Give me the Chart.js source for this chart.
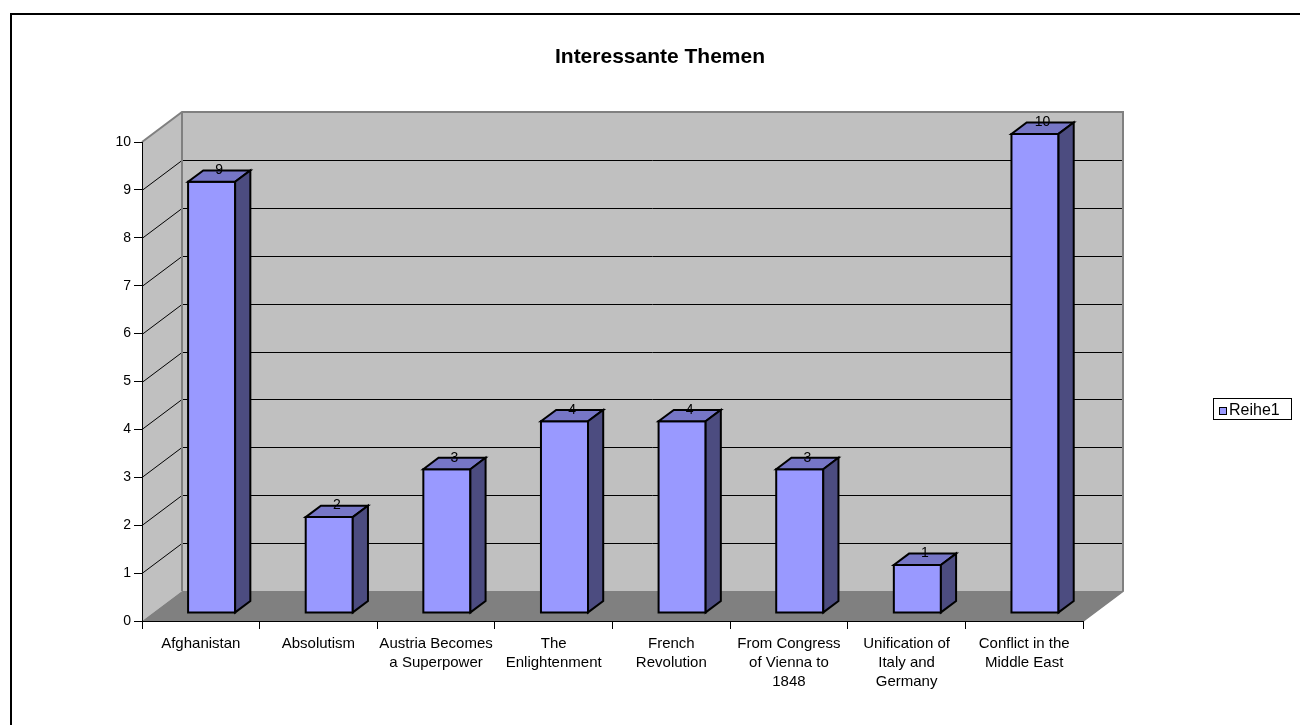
<!DOCTYPE html>
<html>
<head>
<meta charset="utf-8">
<title>Interessante Themen</title>
<script src="https://cdn.jsdelivr.net/npm/chart.js@4.4.1/dist/chart.umd.min.js"></script>
<style>
  html, body { margin: 0; padding: 0; background: #ffffff; }
  canvas { display: block; }
</style>
</head>
<body>
<canvas id="chart" width="1300" height="725"></canvas>
<script>
// ---- data ----
const chartTitle = "Interessante Themen";
const seriesName = "Reihe1";
const categories = [
  "Afghanistan",
  "Absolutism",
  ["Austria Becomes", "a Superpower"],
  ["The", "Enlightenment"],
  ["French", "Revolution"],
  ["From Congress", "of Vienna to", "1848"],
  ["Unification of", "Italy and", "Germany"],
  ["Conflict in the", "Middle East"]
];
const values = [9, 2, 3, 4, 4, 3, 1, 10];
const yMin = 0;
const yMax = 10;
const yStep = 1;

// ---- look ----
const FONT = "'Liberation Sans', Arial, Helvetica, sans-serif";
const DEPTH_X = 40;        // how far the back wall sits to the right
const DEPTH_Y = -30;       // ... and upwards
const BAR_FRONT = 0.27;    // bar front face, as a fraction of the depth
const BAR_BACK = 0.65;     // bar back face
const COL_WALL = "#c0c0c0";
const COL_FLOOR = "#808080";
const COL_EDGE = "#808080";
const COL_FRONT = "#9999ff";
const COL_TOP = "#7676c6";
const COL_SIDE = "#4c4c80";

function poly(ctx, pts) {
  ctx.beginPath();
  ctx.moveTo(pts[0][0], pts[0][1]);
  for (let i = 1; i < pts.length; i++) ctx.lineTo(pts[i][0], pts[i][1]);
  ctx.closePath();
}

// Background, frame, title, and the 3D walls/floor with their gridlines
const scenery = {
  id: "scenery",
  beforeDraw(chart) {
    const { ctx, chartArea: a, scales } = chart;
    const y = scales.y;
    const L = a.left, R = a.right, T = a.top, B = a.bottom;
    const dx = DEPTH_X, dy = DEPTH_Y;
    ctx.save();
    ctx.fillStyle = "#ffffff";
    ctx.fillRect(0, 0, chart.width, chart.height);

    // outer frame
    ctx.strokeStyle = "#000000";
    ctx.lineWidth = 2;
    ctx.strokeRect(11, 14, chart.width + 10, chart.height + 10);

    // title
    ctx.fillStyle = "#000000";
    ctx.font = "bold 21px " + FONT;
    ctx.textAlign = "center";
    ctx.textBaseline = "alphabetic";
    ctx.fillText(chartTitle, 660, 63);

    // back wall
    ctx.fillStyle = COL_WALL;
    ctx.fillRect(L + dx, T + dy, R - L, B - T);
    // side wall
    poly(ctx, [[L, T], [L + dx, T + dy], [L + dx, B + dy], [L, B]]);
    ctx.fill();
    // floor
    ctx.fillStyle = COL_FLOOR;
    poly(ctx, [[L, B], [R, B], [R + dx, B + dy], [L + dx, B + dy]]);
    ctx.fill();

    // gridlines on the walls
    ctx.strokeStyle = "#000000";
    ctx.lineWidth = 1;
    y.ticks.forEach(t => {
      if (t.value <= yMin || t.value >= yMax) return;
      const py = Math.round(y.getPixelForValue(t.value)) + 0.5;
      ctx.beginPath();
      ctx.moveTo(L, py);
      ctx.lineTo(L + dx, py + dy);
      ctx.lineTo(R + dx, py + dy);
      ctx.stroke();
    });

    // wall edges
    ctx.strokeStyle = COL_EDGE;
    ctx.lineWidth = 2;
    ctx.beginPath();
    ctx.moveTo(L, T);
    ctx.lineTo(L + dx, T + dy);
    ctx.lineTo(R + dx, T + dy);
    ctx.lineTo(R + dx, B + dy);
    ctx.lineTo(R, B);
    ctx.moveTo(L + dx, T + dy);
    ctx.lineTo(L + dx, B + dy);
    ctx.stroke();
    ctx.restore();
  },

  // 3D columns and their value labels
  afterDatasetsDraw(chart) {
    const { ctx } = chart;
    const meta = chart.getDatasetMeta(0);
    const dx0 = BAR_FRONT * DEPTH_X, dy0 = BAR_FRONT * DEPTH_Y;
    const d = (BAR_BACK - BAR_FRONT) * DEPTH_X;
    const e = (BAR_BACK - BAR_FRONT) * DEPTH_Y;
    ctx.save();
    ctx.lineWidth = 2;
    ctx.lineJoin = "miter";
    ctx.strokeStyle = "#000000";
    meta.data.forEach((el, i) => {
      const p = el.getProps(["x", "y", "base", "width"], true);
      const x0 = p.x - p.width / 2 + dx0;
      const x1 = p.x + p.width / 2 + dx0;
      const yt = p.y + dy0;
      const yb = p.base + dy0;

      // front
      ctx.fillStyle = COL_FRONT;
      poly(ctx, [[x0, yt], [x1, yt], [x1, yb], [x0, yb]]);
      ctx.fill(); ctx.stroke();
      // top
      ctx.fillStyle = COL_TOP;
      poly(ctx, [[x0, yt], [x1, yt], [x1 + d, yt + e], [x0 + d, yt + e]]);
      ctx.fill(); ctx.stroke();
      // right side
      ctx.fillStyle = COL_SIDE;
      poly(ctx, [[x1, yt], [x1 + d, yt + e], [x1 + d, yb + e], [x1, yb]]);
      ctx.fill(); ctx.stroke();

      // value label on the top face
      ctx.fillStyle = "#000000";
      ctx.font = "14px " + FONT;
      ctx.textAlign = "center";
      ctx.textBaseline = "alphabetic";
      ctx.fillText(String(values[i]), (x0 + x1) / 2 + d / 2, yt + e / 2 - 2);
    });
    ctx.restore();
  },

  // boxed legend on the right
  afterDraw(chart) {
    const { ctx } = chart;
    const ds = chart.data.datasets[0];
    ctx.save();
    ctx.fillStyle = "#ffffff";
    ctx.fillRect(1213, 398, 78, 21);
    ctx.strokeStyle = "#000000";
    ctx.lineWidth = 1;
    ctx.strokeRect(1213.5, 398.5, 78, 21);
    ctx.fillStyle = COL_FRONT;
    ctx.fillRect(1219, 407, 8, 8);
    ctx.strokeRect(1219.5, 407.5, 7, 7);
    ctx.fillStyle = "#000000";
    ctx.font = "16px " + FONT;
    ctx.textAlign = "left";
    ctx.textBaseline = "alphabetic";
    ctx.fillText(ds.label, 1229, 415);
    ctx.restore();
  }
};

new Chart(document.getElementById("chart"), {
  type: "bar",
  data: {
    labels: categories,
    datasets: [{
      label: seriesName,
      data: values,
      backgroundColor: "rgba(0,0,0,0)",
      borderWidth: 0,
      barPercentage: 0.4,
      categoryPercentage: 1.0
    }]
  },
  options: {
    responsive: false,
    animation: false,
    events: [],
    layout: { padding: { left: 92, right: 217, top: 142, bottom: 14 } },
    plugins: {
      legend: { display: false },
      title: { display: false },
      tooltip: { enabled: false }
    },
    scales: {
      x: {
        grid: { drawOnChartArea: false, drawTicks: true, tickLength: 8, color: "#000000", offset: true },
        border: { display: true, color: "#000000", width: 1 },
        ticks: {
          color: "#000000",
          font: { family: FONT, size: 15, lineHeight: 1.27 },
          padding: 5,
          autoSkip: false,
          maxRotation: 0,
          minRotation: 0
        },
        afterFit(scale) { scale.height = 90; }
      },
      y: {
        min: yMin,
        max: yMax,
        grid: { drawOnChartArea: false, drawTicks: true, tickLength: 8, color: "#000000" },
        border: { display: true, color: "#000000", width: 1 },
        ticks: {
          stepSize: yStep,
          color: "#000000",
          font: { family: FONT, size: 14 },
          padding: 3
        },
        afterFit(scale) { scale.width = 50; }
      }
    }
  },
  plugins: [scenery]
});
</script>
</body>
</html>
